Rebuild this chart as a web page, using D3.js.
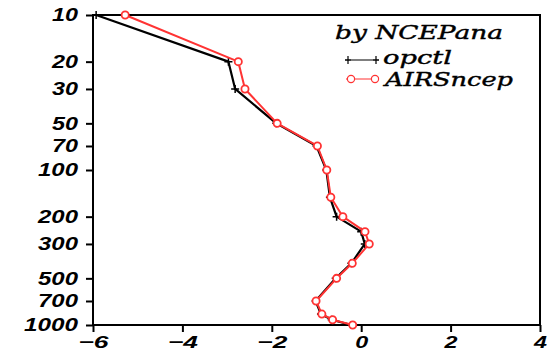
<!DOCTYPE html>
<html>
<head>
<meta charset="utf-8">
<script src="https://cdn.jsdelivr.net/npm/d3@7"></script>
<style>
  html, body { margin: 0; padding: 0; background: #fff; }
  svg { display: block; }
</style>
</head>
<body>
<svg id="chart" width="547" height="353"></svg>
<script>
// Pressure levels (hPa) and bias profiles for the two experiments
const levels   = [10, 20, 30, 50, 70, 100, 150, 200, 250, 300, 400, 500, 700, 850, 925, 1000];
const opctl    = [-5.93, -2.97, -2.82, -1.90, -1.00, -0.78, -0.70, -0.55, 0.00, 0.08, -0.22, -0.57, -1.02, -0.90, -0.66, -0.22];
const airsncep = [-5.28, -2.75, -2.60, -1.88, -0.98, -0.77, -0.68, -0.41, 0.085, 0.18, -0.20, -0.55, -1.01, -0.88, -0.64, -0.19];
const yTicks   = [10, 20, 30, 50, 70, 100, 200, 300, 500, 700, 1000];
const xTicks   = [-6, -4, -2, 0, 2, 4];
const legendTitle = "by NCEPana";
const seriesNames = ["opctl", "AIRSncep"];

const svg = d3.select("#chart");
const L = 93, R = 540, T = 15, B = 325;

const x = d3.scaleLinear().domain([-6, 4]).range([L, R]);
const y = d3.scaleLog().domain([10, 1000]).range([T, B]);

const labelFont = "'Liberation Sans', Arial, sans-serif";

// Frame
svg.append("rect")
  .attr("x", L).attr("y", T).attr("width", R - L).attr("height", B - T)
  .attr("fill", "none").attr("stroke", "#000").attr("stroke-width", 2);

// Left axis (log pressure)
const yAxis = svg.append("g").attr("transform", `translate(${L},0)`)
  .call(d3.axisLeft(y).tickValues(yTicks).tickSize(7).tickPadding(8).tickFormat(d3.format("d")));
yAxis.select(".domain").remove();
yAxis.selectAll("line").attr("stroke", "#000").attr("stroke-width", 2);
yAxis.selectAll("text")
  .attr("font-family", labelFont).attr("font-size", 18).attr("font-weight", "bold")
  .attr("font-style", "italic").attr("fill", "#000")
  .attr("textLength", d => String(d).length * 14 - 2)
  .attr("lengthAdjust", "spacingAndGlyphs");

// Bottom axis
const xAxis = svg.append("g").attr("transform", `translate(0,${B})`)
  .call(d3.axisBottom(x).tickValues(xTicks).tickSize(7).tickPadding(4).tickFormat(d => d < 0 ? "\u2212" + Math.abs(d) : String(d)));
xAxis.select(".domain").remove();
xAxis.selectAll("line").attr("stroke", "#000").attr("stroke-width", 2);
xAxis.selectAll("text")
  .attr("font-family", labelFont).attr("font-size", 17).attr("font-weight", "bold")
  .attr("font-style", "italic").attr("fill", "#000")
  .attr("textLength", d => d < 0 ? 30 : 13)
  .attr("lengthAdjust", "spacingAndGlyphs");

// Clip to the plotting frame
svg.append("clipPath").attr("id", "plotclip")
  .append("rect").attr("x", L - 6).attr("y", T - 6).attr("width", R - L + 12).attr("height", B - T + 12);

const plot = svg.append("g").attr("clip-path", "url(#plotclip)");

const line = d3.line().x(d => x(d[0])).y(d => y(d[1]));

// opctl profile: black line with plus markers
const blackPts = opctl.map((v, i) => [v, levels[i]]);
plot.append("path").datum(blackPts).attr("d", line)
  .attr("fill", "none").attr("stroke", "#000").attr("stroke-width", 2.2).attr("stroke-linejoin", "round");
plot.selectAll("path.plus").data(blackPts).join("path").attr("class", "plus")
  .attr("transform", d => `translate(${x(d[0])},${y(d[1])})`)
  .attr("d", "M-4,0H4M0,-4V4")
  .attr("stroke", "#000").attr("stroke-width", 1.5).attr("fill", "none");

// AIRSncep profile: red line with open circles
const redPts = airsncep.map((v, i) => [v, levels[i]]);
plot.append("path").datum(redPts).attr("d", line)
  .attr("fill", "none").attr("stroke", "#ff3333").attr("stroke-width", 2).attr("stroke-linejoin", "round");
plot.selectAll("circle.mk").data(redPts).join("circle").attr("class", "mk")
  .attr("cx", d => x(d[0])).attr("cy", d => y(d[1])).attr("r", 3.6)
  .attr("fill", "#fff").attr("stroke", "#ff3333").attr("stroke-width", 1.8);

// Legend
const legFont = "'DejaVu Serif', 'Liberation Serif', serif";
const legText = (tx, ty, s, w) => svg.append("text").attr("x", tx).attr("y", ty).text(s)
  .attr("font-family", legFont).attr("font-style", "italic").attr("font-weight", "normal")
  .attr("font-size", 19).attr("stroke", "#000").attr("stroke-width", 0.4)
  .attr("textLength", w).attr("lengthAdjust", "spacingAndGlyphs").attr("fill", "#000");

legText(335, 39, legendTitle, 168);

// opctl entry
svg.append("line").attr("x1", 345).attr("x2", 379).attr("y1", 60).attr("y2", 60)
  .attr("stroke", "#000").attr("stroke-width", 1.2);
[348, 376].forEach(px => svg.append("path").attr("d", `M${px - 3},60H${px + 3}M${px},56V64`)
  .attr("stroke", "#000").attr("stroke-width", 1.2));
legText(383, 64, seriesNames[0], 69);

// AIRSncep entry
svg.append("line").attr("x1", 346).attr("x2", 379).attr("y1", 79).attr("y2", 79)
  .attr("stroke", "#ff3333").attr("stroke-width", 1.2);
[351, 375].forEach(px => svg.append("circle").attr("cx", px).attr("cy", 79).attr("r", 3.6)
  .attr("fill", "#fff").attr("stroke", "#ff3333").attr("stroke-width", 1.2));
legText(385, 86, seriesNames[1], 128);
</script>
</body>
</html>
